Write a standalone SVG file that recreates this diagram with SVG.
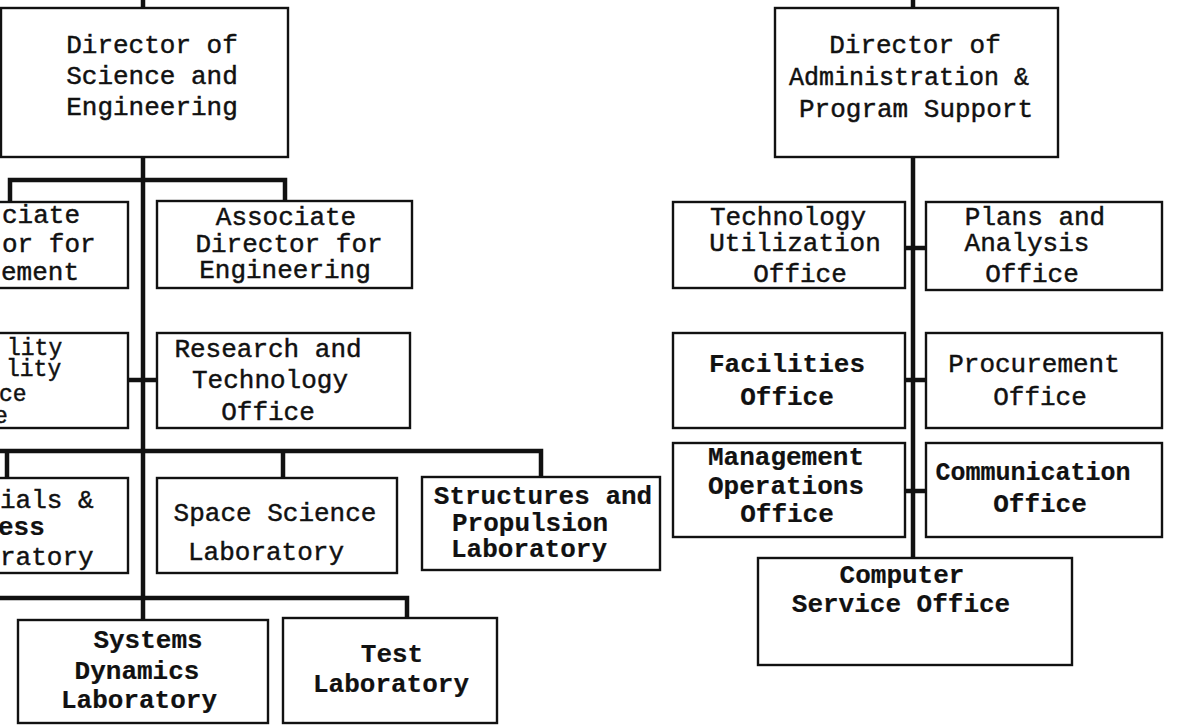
<svg xmlns="http://www.w3.org/2000/svg" width="1191" height="727" viewBox="0 0 1191 727">
<style>
.box{fill:#fff;stroke:#111;stroke-width:2.4}
.conn{fill:none;stroke:#111;stroke-width:4.5;stroke-linecap:butt;stroke-linejoin:miter}
text{font-family:"Liberation Mono","DejaVu Sans Mono",monospace;font-size:26px;fill:#111;stroke:#111;stroke-width:0.45}
.c{text-anchor:middle}
.b{font-weight:bold;stroke-width:0.2}
.s{font-size:23px}
</style>
<rect width="1191" height="727" fill="#fff"/>
<g id="connectors">
<path class="conn" d="M143 0V8M143 157V620"/>
<path class="conn" d="M10 202V180H285V201"/>
<path class="conn" d="M128 380H157"/>
<path class="conn" d="M0 451H541V477M7 451V478M283 451V478"/>
<path class="conn" d="M0 598H407V618"/>
<path class="conn" d="M913 0V8M913 157V558"/>
<path class="conn" d="M905 248H926M905 380H926M905 491H926"/>
</g>
<g id="dir-science">
<rect class="box" x="1" y="8" width="287" height="149"/>
<text class="c" x="152" y="53">Director of</text>
<text class="c" x="152" y="84">Science and</text>
<text class="c" x="152" y="115">Engineering</text>
</g>
<g id="dir-admin">
<rect class="box" x="775" y="8" width="283" height="149"/>
<text class="c" x="915" y="53">Director of</text>
<text class="c" x="909" y="85" style="font-size:25px">Administration &amp;</text>
<text class="c" x="916" y="117">Program Support</text>
</g>
<g id="assoc-mgmt">
<rect class="box" x="-40" y="202" width="168" height="86"/>
<text x="2" y="223">ciate</text>
<text x="2" y="252">or for</text>
<text x="1" y="280">ement</text>
</g>
<g id="assoc-eng">
<rect class="box" x="157" y="201" width="255" height="87"/>
<text class="c" x="286" y="225">Associate</text>
<text class="c" x="289" y="252">Director for</text>
<text class="c" x="285" y="278">Engineering</text>
</g>
<g id="quality">
<rect class="box" x="-40" y="333" width="168" height="95"/>
<text class="s" x="7" y="355">lity</text>
<text class="s" x="6" y="376">lity</text>
<text class="s" x="-1" y="401">ce</text>
<text class="s" x="-6" y="423">e</text>
</g>
<g id="research">
<rect class="box" x="157" y="333" width="253" height="95"/>
<text class="c" x="268" y="357">Research and</text>
<text class="c" x="270" y="388">Technology</text>
<text class="c" x="268" y="420">Office</text>
</g>
<g id="materials">
<rect class="box" x="-40" y="478" width="168" height="95"/>
<text x="0" y="508">ials &amp;</text>
<text class="b" x="-2" y="535">ess</text>
<text x="0" y="565">ratory</text>
</g>
<g id="space-science">
<rect class="box" x="157" y="478" width="240" height="95"/>
<text class="c" x="275" y="521">Space Science</text>
<text class="c" x="266" y="560">Laboratory</text>
</g>
<g id="structures">
<rect class="box" x="422" y="477" width="238" height="93"/>
<text class="c b" x="543" y="504">Structures and</text>
<text class="c b" x="530" y="531">Propulsion</text>
<text class="c b" x="529" y="557">Laboratory</text>
</g>
<g id="systems-dynamics">
<rect class="box" x="18" y="620" width="250" height="103"/>
<text class="c b" x="148" y="648">Systems</text>
<text class="c b" x="137" y="679">Dynamics</text>
<text class="c b" x="139" y="708">Laboratory</text>
</g>
<g id="test-lab">
<rect class="box" x="283" y="618" width="214" height="105"/>
<text class="c b" x="392" y="662">Test</text>
<text class="c b" x="391" y="692">Laboratory</text>
</g>
<g id="tech-util">
<rect class="box" x="673" y="202" width="232" height="86"/>
<text class="c" x="788" y="225">Technology</text>
<text class="c" x="795" y="251">Utilization</text>
<text class="c" x="800" y="282">Office</text>
</g>
<g id="plans">
<rect class="box" x="926" y="202" width="236" height="88"/>
<text class="c" x="1035" y="225">Plans and</text>
<text class="c" x="1027" y="251">Analysis</text>
<text class="c" x="1032" y="282">Office</text>
</g>
<g id="facilities">
<rect class="box" x="673" y="333" width="232" height="95"/>
<text class="c b" x="787" y="372">Facilities</text>
<text class="c b" x="787" y="405">Office</text>
</g>
<g id="procurement">
<rect class="box" x="926" y="333" width="236" height="95"/>
<text class="c" x="1034" y="372">Procurement</text>
<text class="c" x="1040" y="405">Office</text>
</g>
<g id="mgmt-ops">
<rect class="box" x="673" y="443" width="232" height="94"/>
<text class="c b" x="786" y="465">Management</text>
<text class="c b" x="786" y="494">Operations</text>
<text class="c b" x="787" y="522">Office</text>
</g>
<g id="communication">
<rect class="box" x="926" y="443" width="236" height="94"/>
<text class="c b" x="1033" y="480" style="font-size:25px">Communication</text>
<text class="c b" x="1040" y="512">Office</text>
</g>
<g id="computer">
<rect class="box" x="758" y="558" width="314" height="107"/>
<text class="c b" x="902" y="583">Computer</text>
<text class="c b" x="901" y="612">Service Office</text>
</g>
</svg>
